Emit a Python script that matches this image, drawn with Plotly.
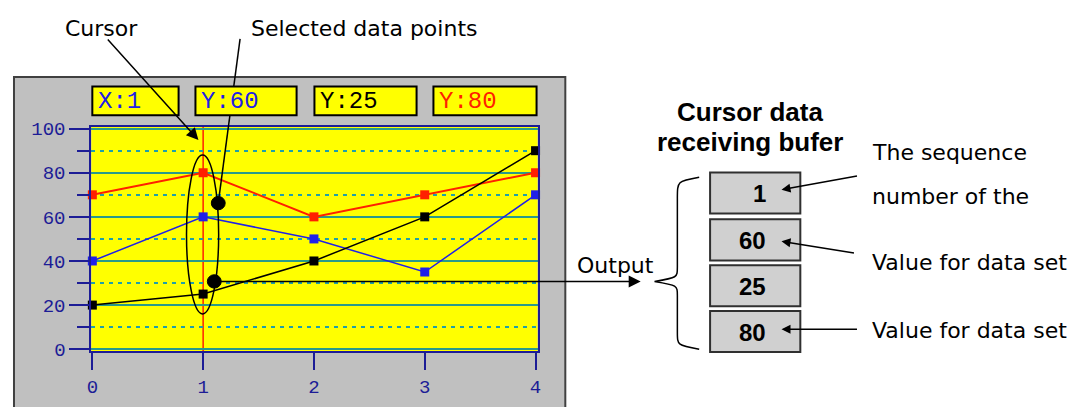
import plotly.graph_objects as go

# the page body keeps its default 8px margin; keep the figure small enough to fit
# inside the window without scrollbars and place everything in window pixels
OFF = 8
W, H = 1086 - 2 * OFF, 415 - 2 * OFF

# data
x_vals = [0, 1, 2, 3, 4]
red_vals = [70, 80, 60, 70, 80]
blue_vals = [40, 60, 50, 35, 70]
black_vals = [20, 25, 40, 60, 90]
cursor_x = 1
y_ticks = [0, 20, 40, 60, 80, 100]
buffer_vals = [1, 60, 25, 80]
side_labels = ["The sequence", "number of the", "Value for data set", "Value for data set"]

NAVY = "#1c1c96"
TEAL = "#2a9a8a"
MONO = "Liberation Mono, DejaVu Sans Mono, monospace"
SANS = "DejaVu Sans, sans-serif"
BOLD = "Liberation Sans, Arial, sans-serif"


# window pixel -> paper coordinates
def px(x):
    return (x - OFF) / W


def py(y):
    return 1 - (y - OFF) / H


fig = go.Figure()

series = [(red_vals, "#ff2000", 2), (blue_vals, "#2020e8", 1.5), (black_vals, "#000000", 1.5)]
for vals, col, lw in series:
    fig.add_trace(go.Scatter(
        x=x_vals, y=vals, mode="lines+markers",
        line=dict(color=col, width=lw),
        marker=dict(symbol="square", size=9, color=col),
        hoverinfo="skip", cliponaxis=False,
    ))

shapes = []
# gray panel
shapes.append(dict(type="rect", xref="paper", yref="paper", layer="below",
                   x0=px(9), x1=px(565), y0=py(430), y1=py(73),
                   fillcolor="#c0c0c0", line=dict(color="#404040", width=2)))
# yellow plot area
shapes.append(dict(type="rect", xref="x domain", yref="y domain", layer="below",
                   x0=0, x1=1, y0=0, y1=1, fillcolor="#ffff00", line=dict(width=0)))
# cursor
shapes.append(dict(type="line", xref="x", yref="y domain", layer="below",
                   x0=cursor_x, x1=cursor_x, y0=0, y1=1,
                   line=dict(color="#ff2000", width=1.5)))
# selection ellipse
shapes.append(dict(type="circle", xref="x", yref="y", x0=0.85, x1=1.14, y0=16, y1=88,
                   line=dict(color="black", width=1.5)))
# selected-point dots
for cx, cy in [(215, 205), (211, 287)]:
    shapes.append(dict(type="circle", xref="paper", yref="paper",
                       x0=px(cx - 7), x1=px(cx + 7), y0=py(cy + 7), y1=py(cy - 7),
                       fillcolor="black", line=dict(color="black", width=1)))
# leader from "Selected data points"
shapes.append(dict(type="line", xref="paper", yref="paper",
                   x0=px(237), y0=py(33), x1=px(215), y1=py(205),
                   line=dict(color="black", width=1.5)))

# readout boxes
i = x_vals.index(cursor_x)
readouts = [
    ("X:%d" % cursor_x, "#2020e8", 88, 175),
    ("Y:%d" % blue_vals[i], "#2020e8", 192, 294),
    ("Y:%d" % black_vals[i], "#000000", 312, 415),
    ("Y:%d" % red_vals[i], "#ff2000", 432, 536),
]
annotations = []
for txt, col, l, r in readouts:
    shapes.append(dict(type="rect", xref="paper", yref="paper",
                       x0=px(l), x1=px(r), y0=py(113), y1=py(83),
                       fillcolor="#ffff00", line=dict(color="black", width=2)))
    annotations.append(dict(text=txt, xref="paper", yref="paper", x=px(l + 4), y=py(99),
                            xanchor="left", yanchor="middle", showarrow=False,
                            font=dict(family=MONO, size=24, color=col)))

# buffer boxes
box_tops = [173, 222, 270, 318]
for v, t in zip(buffer_vals, box_tops):
    shapes.append(dict(type="rect", xref="paper", yref="paper",
                       x0=px(711), x1=px(802), y0=py(t + 43), y1=py(t),
                       fillcolor="#d0d0d0", line=dict(color="#303030", width=2)))
    annotations.append(dict(text="<b>%d</b>" % v, xref="paper", yref="paper",
                            x=px(769), y=py(t + 22), xanchor="right", yanchor="middle",
                            showarrow=False, font=dict(family=BOLD, size=24, color="black")))

# curly brace
pts = [(700, 178), (678, 182), (678, 200), (678, 272), (678, 283), (655, 287),
       (678, 291), (678, 302), (678, 340), (678, 354), (700, 358)]
p = [(px(a), py(b)) for a, b in pts]
seq = [p[0], p[1], p[1], p[2], p[3], p[4], p[4], p[5], p[6], p[6], p[7], p[8], p[9], p[9], p[10]]
cmds = ["M", "C", "", "", "L", "C", "", "", "C", "", "", "L", "C", "", ""]
path = " ".join("%s %.5f %.5f" % (c, a, b) if c else "%.5f %.5f" % (a, b)
                for c, (a, b) in zip(cmds, seq))
shapes.append(dict(type="path", xref="paper", yref="paper", path=path,
                   line=dict(color="black", width=1.5)))

# text labels
labels = [
    ("Cursor", 58, 22, "left", False),
    ("Selected data points", 246, 22, "left", False),
    ("Output", 575, 270, "left", False),
    ("Cursor data", 751, 110, "center", True),
    ("receiving bufer", 751, 141, "center", True),
]
for txt, x, y, anc, bold in labels:
    annotations.append(dict(text="<b>%s</b>" % txt if bold else txt,
                            xref="paper", yref="paper", x=px(x), y=py(y),
                            xanchor=anc, yanchor="middle", showarrow=False,
                            font=dict(family=BOLD if bold else SANS,
                                      size=26 if bold else 22, color="black")))

for txt, y in zip(side_labels, [152, 198, 267, 338]):
    annotations.append(dict(text=txt, xref="paper", yref="paper", x=px(872), y=py(y),
                            xanchor="left", yanchor="middle", showarrow=False,
                            font=dict(family=SANS, size=22, color="black")))

# arrows: (tip, start, head size)
arrows = [((195, 139), (103, 37), 1.6),
          ((641, 287), (211, 287), 1.6),
          ((783, 191), (860, 177), 1.2),
          ((783, 245), (857, 257), 1.2),
          ((783, 337), (860, 337), 1.2)]
for (tx, ty), (sx, sy), sz in arrows:
    annotations.append(dict(text="", xref="paper", yref="paper", x=px(tx), y=py(ty),
                            ax=sx - tx, ay=sy - ty, showarrow=True, arrowhead=2,
                            arrowsize=sz, arrowwidth=1.5, arrowcolor="black", standoff=0))

fig.update_layout(
    width=W, height=H, margin=dict(l=0, r=0, t=0, b=0),
    paper_bgcolor="white", plot_bgcolor="rgba(0,0,0,0)", showlegend=False,
    shapes=shapes, annotations=annotations,
    xaxis=dict(domain=[px(87), px(537)], range=[-0.009, 4.018], tickvals=x_vals,
               showgrid=False, zeroline=False, showline=True, mirror=True,
               linecolor=NAVY, linewidth=2, ticks="outside", ticklen=17, tickwidth=2,
               tickcolor=NAVY, tickfont=dict(family=MONO, size=19, color=NAVY)),
    yaxis=dict(domain=[py(360), py(125)], range=[-0.87, 100.87], tickvals=y_ticks,
               showgrid=True, gridcolor=TEAL, gridwidth=1.5, zeroline=False,
               showline=True, mirror=True, linecolor=NAVY, linewidth=2,
               ticks="outside", ticklen=20, tickwidth=2, tickcolor=NAVY,
               tickfont=dict(family=MONO, size=19, color=NAVY),
               minor=dict(dtick=10, tick0=0, ticks="outside", ticklen=12, tickwidth=2,
                          tickcolor=NAVY, showgrid=True, gridcolor="#20a0a8",
                          griddash="4px,5px", gridwidth=1.5)),
)

fig.write_html("out.html")
